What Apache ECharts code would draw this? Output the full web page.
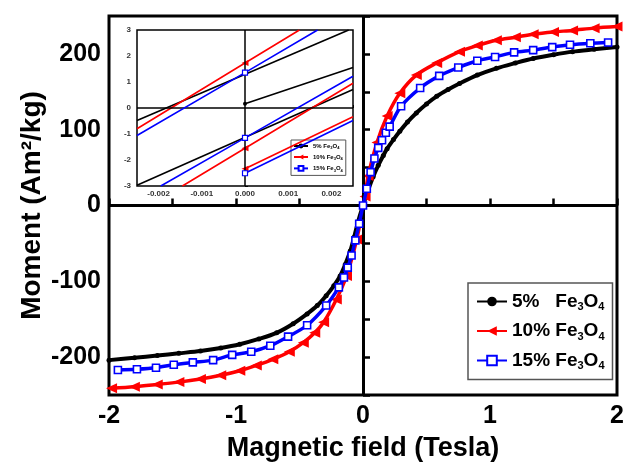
<!DOCTYPE html>
<html><head><meta charset="utf-8">
<script src="https://cdn.jsdelivr.net/npm/echarts@6/dist/echarts.min.js"></script>
<style>html,body{margin:0;padding:0;background:#fff}#c{width:627px;height:467px}</style>
</head><body><div id="c"></div>
<script>
// ---- data ----
const seriesNames = ['5% Fe3O4', '10% Fe3O4', '15% Fe3O4'];
const seriesColors = ['#000000', '#ff0000', '#0000ff'];

const blackH = [-2.0, -1.80, -1.62, -1.45, -1.28, -1.12, -0.97, -0.82, -0.68, -0.55, -0.44, -0.36, -0.29, -0.23, -0.18, -0.14, -0.10, -0.07, -0.04, 0.0, 0.04, 0.08, 0.12, 0.16, 0.19, 0.24, 0.29, 0.35, 0.42, 0.50, 0.58, 0.67, 0.76, 0.90, 1.05, 1.20, 1.34, 1.50, 1.65, 1.82, 2.0];
const blackM = [-204, -201, -198, -195, -192, -188, -183, -176, -168, -156, -143, -132, -119, -106, -93, -78, -60, -42, -22, 0, 20, 38, 53, 66, 75, 87, 98, 110, 122, 134, 144, 153, 161, 172, 181, 188, 194, 199, 203, 206, 209];

const redH = [-1.98, -1.80, -1.62, -1.45, -1.28, -1.12, -0.97, -0.84, -0.71, -0.58, -0.47, -0.38, -0.31, -0.21, -0.13, -0.05, 0.016, 0.04, 0.11, 0.19, 0.29, 0.42, 0.58, 0.76, 0.90, 1.05, 1.20, 1.34, 1.50, 1.65, 1.82, 2.0];
const redM = [-241, -239, -236, -233, -229, -224, -218, -211, -203, -193, -181, -168, -154, -124, -93, -45, 12, 39, 83, 118, 148, 172, 188, 203, 211, 218, 222, 226, 229, 231, 234, 236];

const blueH = [-1.93, -1.78, -1.63, -1.49, -1.34, -1.18, -1.03, -0.88, -0.73, -0.59, -0.44, -0.29, -0.19, -0.15, -0.12, -0.09, -0.06, -0.03, 0, 0.03, 0.06, 0.09, 0.12, 0.15, 0.18, 0.21, 0.30, 0.45, 0.60, 0.75, 0.90, 1.04, 1.19, 1.34, 1.49, 1.63, 1.79, 1.93];
const blueM = [-217, -216, -214, -210, -207, -204, -197, -193, -185, -173, -158, -132, -108, -95, -82, -66, -46, -24, 0, 22, 44, 62, 76, 86, 96, 104, 131, 155, 171, 182, 191, 196, 202, 205, 209, 212, 214, 215];

const xTickLabels = [-2, -1, 0, 1, 2];
const yTickLabels = [-200, -100, 0, 100, 200];

// inset: straight segments read from the zoomed loop (field in Tesla, moment)
const insetBlack = [
  [[-0.0025, -0.48], [0.0024, 3.0]],
  [[0, 0.16], [0.0025, 1.56]],
  [[-0.0025, -2.97], [0.0025, 0.71]]
];
const insetRed = [
  [[-0.0025, -0.80], [0, 1.73], [0.00126, 3.0]],
  [[-0.00145, -3.0], [0, -1.55], [0.0025, 0.95]],
  [[0, -2.34], [0.0025, -0.34]]
];
const insetBlue = [
  [[-0.0025, -1.06], [0, 1.36], [0.00168, 3.0]],
  [[-0.00195, -3.0], [0, -1.15], [0.0025, 1.22]],
  [[0, -2.51], [0.0025, -0.48]]
];
const insetXTickLabels = [-0.002, -0.001, 0, 0.001, 0.002];
const insetYTickLabels = [-3, -2, -1, 0, 1, 2, 3];

// ---- chart ----
const FONT = '"Liberation Sans", Arial, Helvetica, sans-serif';
const zip = (a, b) => a.map((v, i) => [v, b[i]]);
const triLeft = 'path://M0,5L10,0L10,10Z';
const mainSymbols = ['circle', triLeft, 'rect'];
const mainSymbolSizes = [5, [11, 10], 7];
const mainLineWidths = [4, 3.5, 3.5];

function legendFmt(name) {
  const m = name.match(/^(\S+)\s+Fe3O4$/);
  const pct = m[1];
  const gap = pct.length === 2 ? '   ' : ' ';
  return '{a|' + pct + gap + 'Fe}{s|3}{a|O}{s|4}';
}

const chart = echarts.init(document.getElementById('c'), null, {renderer: 'canvas'});

const series = [];
const mainData = [zip(blackH, blackM), zip(redH, redM), zip(blueH, blueM)];
mainData.forEach((d, i) => {
  series.push({
    name: seriesNames[i], type: 'line', xAxisIndex: 0, yAxisIndex: 0,
    data: d, smooth: 0.3, symbol: mainSymbols[i], symbolSize: mainSymbolSizes[i],
    showAllSymbol: true, color: seriesColors[i],
    lineStyle: {color: seriesColors[i], width: mainLineWidths[i]},
    itemStyle: i === 2 ? {color: '#ffffff', borderColor: '#0000ff', borderWidth: 1.6} : {color: seriesColors[i]},
    z: 3 + i
  });
});
// zero lines, main
series.push({
  name: '_zero', type: 'line', xAxisIndex: 0, yAxisIndex: 0, data: [[0, 0]],
  symbol: 'none', lineStyle: {width: 0}, z: 1,
  markLine: {silent: true, symbol: ['none', 'none'], label: {show: false},
    lineStyle: {color: '#000', width: 3, type: 'solid'},
    data: [{xAxis: 0}, {yAxis: 0}]}
});
// zero lines, inset
series.push({
  name: '_zero2', type: 'line', xAxisIndex: 1, yAxisIndex: 1, data: [[0, 0]],
  symbol: 'none', lineStyle: {width: 0}, z: 1,
  markLine: {silent: true, symbol: ['none', 'none'], label: {show: false},
    lineStyle: {color: '#000', width: 1.5, type: 'solid'},
    data: [{xAxis: 0}, {yAxis: 0}]}
});
const insetSets = [insetBlack, insetRed, insetBlue];
const insetSym = ['circle', triLeft, 'rect'];
const insetSymSize = [4, [7, 6], 5];
insetSets.forEach((segs, i) => {
  segs.forEach(seg => {
    series.push({
      name: seriesNames[i], type: 'line', xAxisIndex: 1, yAxisIndex: 1,
      data: seg.map(p => p[0] === 0 ? {value: p} : {value: p, symbol: 'none'}),
      symbol: insetSym[i], symbolSize: insetSymSize[i], showAllSymbol: true,
      color: seriesColors[i],
      lineStyle: {color: seriesColors[i], width: 1.6},
      itemStyle: i === 2 ? {color: '#fff', borderColor: '#0000ff', borderWidth: 1.2} : {color: seriesColors[i]},
      z: 3 + i
    });
  });
});

const option = {
  animation: false,
  backgroundColor: '#fff',
  grid: [
    {left: 109, right: 10, top: 16, bottom: 71, show: true, borderColor: '#000', borderWidth: 3, backgroundColor: 'transparent'},
    {left: 137, top: 30, width: 216, height: 156, show: true, borderColor: '#000', borderWidth: 1.5, backgroundColor: '#fff', z: 2}
  ],
  xAxis: [
    {gridIndex: 0, type: 'value', min: -2, max: 2, interval: 0.5,
      axisLine: {show: false}, splitLine: {show: false},
      axisTick: {show: true, inside: true, length: 7, lineStyle: {color: '#000', width: 2.5}},
      axisLabel: {fontSize: 25, fontWeight: 'bold', color: '#000', fontFamily: FONT, margin: 9,
        formatter: v => xTickLabels.some(t => Math.abs(t - v) < 1e-9) ? String(Math.round(v)) : ''},
      name: 'Magnetic field (Tesla)', nameLocation: 'middle', nameGap: 40, nameMoveOverlap: false,
      nameTextStyle: {fontSize: 27, fontWeight: 'bold', color: '#000', fontFamily: FONT}},
    {gridIndex: 1, type: 'value', min: -0.0025, max: 0.0025, interval: 0.0005,
      axisLine: {show: false}, splitLine: {show: false},
      axisTick: {show: true, inside: true, length: 3, lineStyle: {color: '#000', width: 1}},
      axisLabel: {fontSize: 8, fontWeight: 'bold', color: '#333', fontFamily: FONT, margin: 4,
        formatter: v => insetXTickLabels.some(t => Math.abs(t - v) < 1e-9) ? v.toFixed(3) : ''}}
  ],
  yAxis: [
    {gridIndex: 0, type: 'value', min: -250, max: 250, interval: 50,
      axisLine: {show: false}, splitLine: {show: false},
      axisTick: {show: true, inside: true, length: 7, lineStyle: {color: '#000', width: 2.5}},
      axisLabel: {fontSize: 25, fontWeight: 'bold', color: '#000', fontFamily: FONT, margin: 8,
        formatter: v => yTickLabels.some(t => Math.abs(t - v) < 1e-9) ? String(Math.round(v)) : ''},
      name: 'Moment (Am²/kg)', nameLocation: 'middle', nameGap: 63, nameMoveOverlap: false,
      nameTextStyle: {fontSize: 28, fontWeight: 'bold', color: '#000', fontFamily: FONT}},
    {gridIndex: 1, type: 'value', min: -3, max: 3, interval: 1,
      axisLine: {show: false}, splitLine: {show: false},
      axisTick: {show: true, inside: true, length: 3, lineStyle: {color: '#000', width: 1}},
      minorTick: {show: true, splitNumber: 2, length: 2, lineStyle: {color: '#000', width: 1}},
      axisLabel: {fontSize: 8, fontWeight: 'bold', color: '#333', fontFamily: FONT, margin: 6,
        formatter: v => insetYTickLabels.some(t => Math.abs(t - v) < 1e-9) ? String(Math.round(v)) : ''}}
  ],
  legend: [
    {data: seriesNames, orient: 'vertical', left: 468, top: 283, selectedMode: false,
      padding: [9, 8, 8, 8], itemGap: 9, itemWidth: 30, itemHeight: 12,
      borderColor: '#555', borderWidth: 1.5, backgroundColor: '#fff',
      formatter: legendFmt,
      textStyle: {color: '#000', fontFamily: FONT, fontWeight: 'bold', fontSize: 19,
        rich: {a: {fontSize: 19, fontWeight: 'bold', fontFamily: FONT, color: '#000', lineHeight: 22},
               s: {fontSize: 11, fontWeight: 'bold', fontFamily: FONT, color: '#000', lineHeight: 9, verticalAlign: 'bottom'}}}},
    {data: seriesNames, orient: 'vertical', left: 291, top: 140, selectedMode: false,
      padding: [3, 3, 3, 2], itemGap: 4, itemWidth: 14, itemHeight: 6,
      borderColor: '#555', borderWidth: 1, backgroundColor: '#fff',
      formatter: n => legendFmt(n).replace('   ', ' '),
      textStyle: {color: '#000', fontFamily: FONT, fontWeight: 'bold', fontSize: 6,
        rich: {a: {fontSize: 6, fontWeight: 'bold', fontFamily: FONT, color: '#000', lineHeight: 8},
               s: {fontSize: 4, fontWeight: 'bold', fontFamily: FONT, color: '#000', lineHeight: 4, verticalAlign: 'bottom'}}}}
  ],
  series: series
};
chart.setOption(option);
</script></body></html>
